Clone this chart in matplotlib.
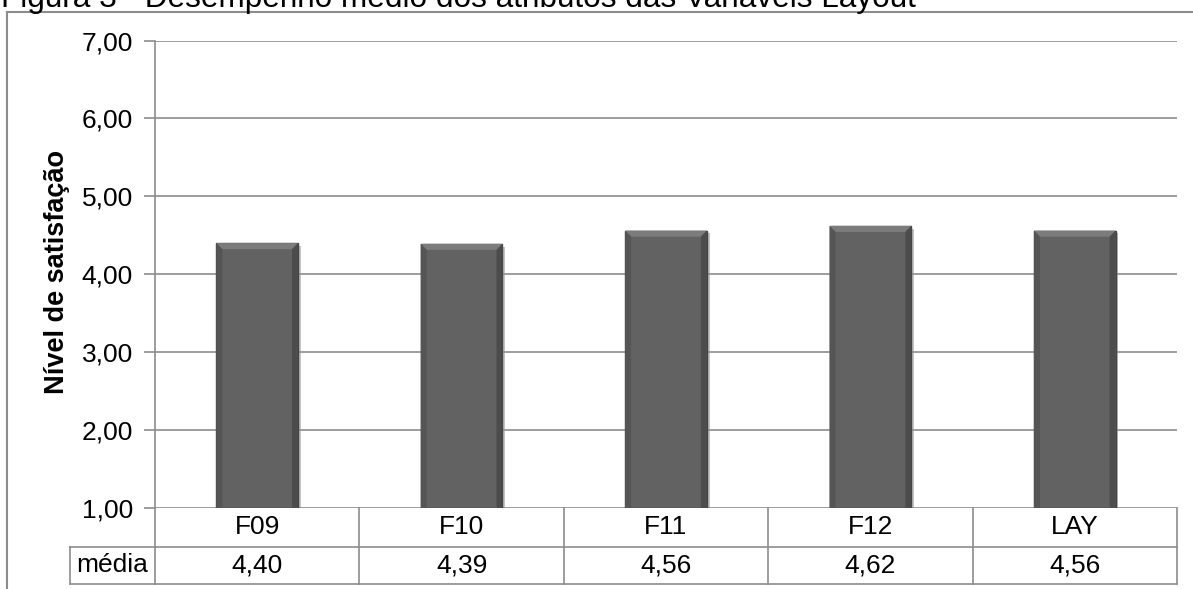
"""Figura 3 — desempenho médio dos atributos das variáveis Layout."""
import matplotlib
matplotlib.use("Agg")
import matplotlib.pyplot as plt
import matplotlib.transforms as mtransforms
import matplotlib.patheffects as pe
from matplotlib.lines import Line2D
from matplotlib.patches import Polygon
from matplotlib.ticker import FuncFormatter
import numpy as np

plt.rcParams["font.family"] = ["Liberation Sans", "DejaVu Sans"]

# ─── dados ──────────────────────────────────────────────
CATEGORIAS = ["F09", "F10", "F11", "F12", "LAY"]
MEDIAS = [4.40, 4.39, 4.56, 4.62, 4.56]
ROTULO_LINHA = "média"
Y_TICKS = [1, 2, 3, 4, 5, 6, 7]
TITULO = "Figura 3 - Desempenho médio dos atributos das Variáveis Layout"
Y_LABEL = "Nível de satisfação"

GRID = "#8c8c8c"
BAR = "#626262"


def virgula(v, _=None):
    return f"{v:.2f}".replace(".", ",")


W, H = 1193, 589
fig = plt.figure(figsize=(W / 100, H / 100), dpi=100)
ax_w, ax_h = 1177 - 155, 508 - 40.5
ax = fig.add_axes([155 / W, 1 - 508 / H, ax_w / W, ax_h / H])

x = np.arange(len(CATEGORIAS))
base = Y_TICKS[0]
bars = ax.bar(x, np.array(MEDIAS) - base, bottom=base, width=0.4, color=BAR,
              edgecolor="#444444", linewidth=1.0, zorder=3,
              path_effects=[pe.SimplePatchShadow(offset=(2, -2), shadow_rgbFace="#9a9a9a", alpha=0.6),
                            pe.Normal()])

ax.set_xlim(-0.5, len(CATEGORIAS) - 0.5)
ax.set_ylim(Y_TICKS[0], Y_TICKS[-1])

# chanfro (efeito 3D) de cada barra
bx = 6 * len(CATEGORIAS) / ax_w
by = 6 * (Y_TICKS[-1] - Y_TICKS[0]) / ax_h
for b in bars:
    x0, x1 = b.get_x(), b.get_x() + b.get_width()
    y0, y1 = b.get_y(), b.get_y() + b.get_height()
    topo = [(x0, y1), (x1, y1), (x1 - bx, y1 - by), (x0 + bx, y1 - by)]
    esq = [(x0, y0), (x0, y1), (x0 + bx, y1 - by), (x0 + bx, y0)]
    dir_ = [(x1, y0), (x1, y1), (x1 - bx, y1 - by), (x1 - bx, y0)]
    for pts, cor in ((topo, "#7c7c7c"), (esq, "#555555"), (dir_, "#4c4c4c")):
        ax.add_patch(Polygon(pts, closed=True, facecolor=cor, edgecolor="none", zorder=4))

ax.set_yticks(Y_TICKS)
ax.yaxis.set_major_formatter(FuncFormatter(virgula))
ax.set_xticks([])
ax.tick_params(axis="y", length=8, width=1.2, color=GRID, labelsize=19, pad=8)
ax.grid(axis="y", color=GRID, linewidth=1.2, zorder=0)
for s in ("top", "right", "bottom"):
    ax.spines[s].set_visible(False)
ax.spines["left"].set_color(GRID)
ax.spines["left"].set_linewidth(1.2)

# ─── tabela de dados ────────────────────────────────────
trans = mtransforms.blended_transform_factory(ax.transData, fig.transFigure)
y0, y1, y2 = 1 - 508 / H, 1 - 547 / H, 1 - 584 / H
lw = 1.2
for xe in np.arange(-0.5, len(CATEGORIAS), 1.0):
    fig.add_artist(Line2D([xe, xe], [y2, y0], transform=trans, color=GRID, lw=lw))
for yy in (y1, y2):
    fig.add_artist(Line2D([-0.5, len(CATEGORIAS) - 0.5], [yy, yy], transform=trans, color=GRID, lw=lw))
    fig.add_artist(Line2D([70 / W, 155 / W], [yy, yy], transform=fig.transFigure, color=GRID, lw=lw))
fig.add_artist(Line2D([70 / W, 70 / W], [y2, y1], transform=fig.transFigure, color=GRID, lw=lw))

for i, (c, v) in enumerate(zip(CATEGORIAS, MEDIAS)):
    fig.text(i, (y0 + y1) / 2, c, transform=trans, ha="center", va="center", fontsize=19)
    fig.text(i, (y1 + y2) / 2, virgula(v), transform=trans, ha="center", va="center", fontsize=19)
fig.text((70 + 155) / 2 / W, (y1 + y2) / 2, ROTULO_LINHA, ha="center", va="center", fontsize=19)

# ─── moldura, título, eixo y ────────────────────────────
fig.add_artist(Line2D([7.5 / W, 7.5 / W], [0, 1 - 11.5 / H], transform=fig.transFigure, color=GRID, lw=1.5))
fig.add_artist(Line2D([7.5 / W, 1], [1 - 11.5 / H, 1 - 11.5 / H], transform=fig.transFigure, color=GRID, lw=1.5))
fig.text(1 / W, 1 - 7 / H, TITULO, fontsize=22.7, va="baseline", ha="left")
fig.text(57 / W, 1 - 272 / H, Y_LABEL, rotation=90, fontsize=19.5, fontweight="bold",
         ha="center", va="center")

fig.savefig("out.png", dpi=100)
